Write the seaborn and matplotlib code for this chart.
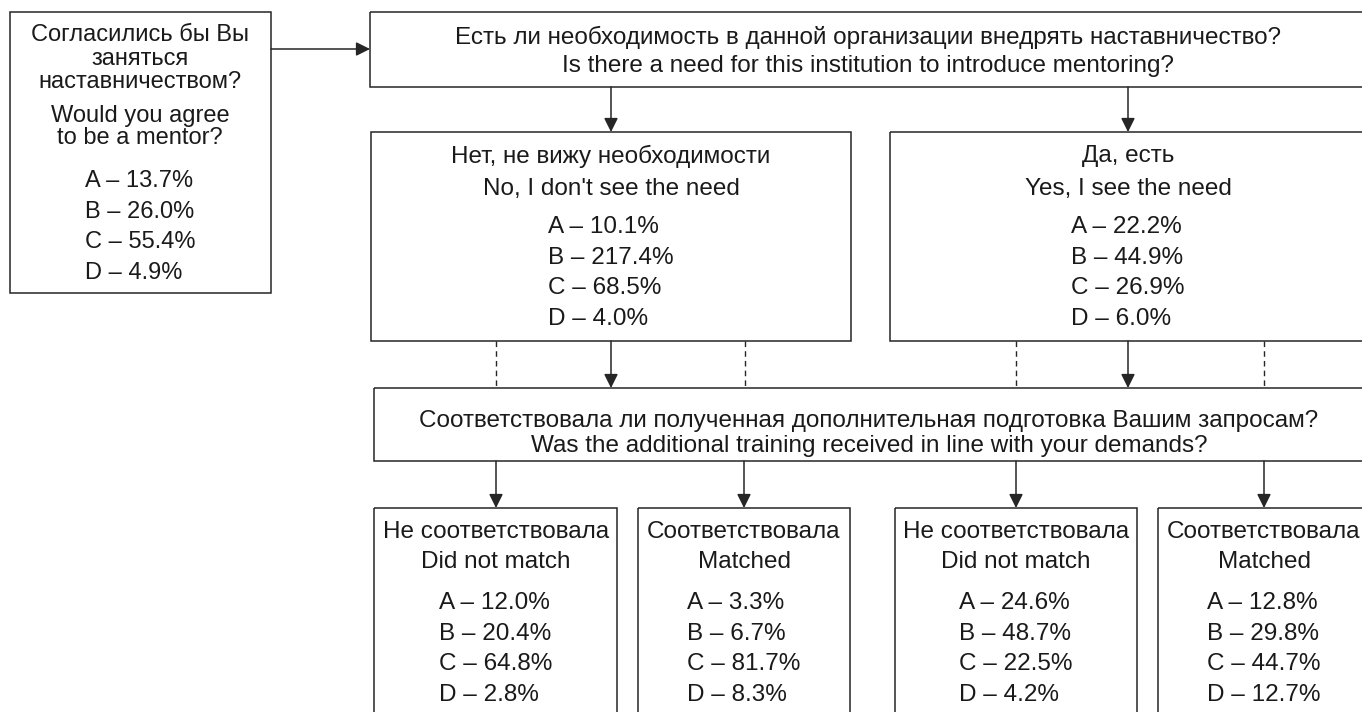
import matplotlib
matplotlib.use("Agg")
import matplotlib.pyplot as plt
import seaborn as sns
from matplotlib.patches import Rectangle, FancyArrowPatch

sns.set_theme(style="white")
plt.rcParams['font.family'] = ['Liberation Sans', 'DejaVu Sans']

# Data
letters = ["A", "B", "C", "D"]

mentor_ru = ["Согласились бы Вы", "заняться", "наставничеством?"]
mentor_en = ["Would you agree", "to be a mentor?"]
mentor_vals = [13.7, 26.0, 55.4, 4.9]

need_q_ru = "Есть ли необходимость в данной организации внедрять наставничество?"
need_q_en = "Is there a need for this institution to introduce mentoring?"

need_no_ru = "Нет, не вижу необходимости"
need_no_en = "No, I don't see the need"
need_no_vals = [10.1, 217.4, 68.5, 4.0]

need_yes_ru = "Да, есть"
need_yes_en = "Yes, I see the need"
need_yes_vals = [22.2, 44.9, 26.9, 6.0]

train_q_ru = "Соответствовала ли полученная дополнительная подготовка Вашим запросам?"
train_q_en = "Was the additional training received in line with your demands?"

mismatch_ru = "Не соответствовала"
mismatch_en = "Did not match"
match_ru = "Соответствовала"
match_en = "Matched"
no_mismatch_vals = [12.0, 20.4, 64.8, 2.8]
no_match_vals = [3.3, 6.7, 81.7, 8.3]
yes_mismatch_vals = [24.6, 48.7, 22.5, 4.2]
yes_match_vals = [12.8, 29.8, 44.7, 12.7]

LINE = "#262626"
TXT = "#1a1a1a"
FS = 17.5

fig = plt.figure(figsize=(13.62, 7.12), dpi=100)
ax = fig.add_axes([0, 0, 1, 1])
ax.set_xlim(0, 1362)
ax.set_ylim(712, 0)
ax.axis("off")


def box(x0, y0, x1, y1):
    ax.add_patch(Rectangle((x0, y0), x1 - x0, y1 - y0, fill=False,
                           edgecolor=LINE, lw=1.1))


def arrow(x0, y0, x1, y1):
    ax.add_patch(FancyArrowPatch((x0, y0), (x1, y1),
                                 arrowstyle="-|>,head_length=0.6,head_width=0.3",
                                 mutation_scale=14, color=LINE, lw=1.1,
                                 shrinkA=0, shrinkB=0))


def dashed(x, y0, y1):
    ax.plot([x, x], [y0, y1], color=LINE, lw=1.0, linestyle=(0, (4, 3)))


def label(x, y, s, fs=FS):
    ax.text(x, y + 2, s, ha="center", va="center", fontsize=fs, color=TXT)


def values(x, y, vals, ls, fs=FS):
    txt = "\n".join(f"{l} – {v:.1f}%" for l, v in zip(letters, vals))
    ax.text(x, y + 1, txt, ha="center", va="center", ma="left", fontsize=fs,
            linespacing=ls, color=TXT)


# left box
box(10, 12, 271, 293)
for yy, s in zip([33, 57, 80], mentor_ru):
    label(140, yy, s, 17)
for yy, s in zip([114, 136], mentor_en):
    label(140, yy, s, 17)
values(140, 226, mentor_vals, 1.5, 17)
arrow(271, 49, 370, 49)

# top question
box(370, 12, 1376, 87)
label(868, 35, need_q_ru)
label(868, 64, need_q_en)
arrow(611, 87, 611, 132)
arrow(1128, 87, 1128, 132)

# middle boxes
for cx, x0, x1, ru, en, vals in [(611, 371, 851, need_no_ru, need_no_en, need_no_vals),
                                 (1128, 890, 1370, need_yes_ru, need_yes_en, need_yes_vals)]:
    box(x0, 132, x1, 341)
    label(cx, 154, ru)
    label(cx, 187, en)
    values(cx, 272, vals, 1.5)
    arrow(cx, 341, cx, 388)

for x in [496, 745, 1016, 1264]:
    dashed(x, 341, 388)

# training question
box(374, 388, 1370, 461)
label(869, 419, train_q_ru)
label(869, 444, train_q_en)

# bottom boxes
bottom = [(496, 374, 617, mismatch_ru, mismatch_en, no_mismatch_vals),
          (744, 638, 850, match_ru, match_en, no_match_vals),
          (1016, 895, 1137, mismatch_ru, mismatch_en, yes_mismatch_vals),
          (1264, 1158, 1370, match_ru, match_en, yes_match_vals)]
for cx, x0, x1, ru, en, vals in bottom:
    arrow(cx, 461, cx, 508)
    box(x0, 508, x1, 740)
    label(cx, 530, ru)
    label(cx, 560, en)
    values(cx, 648, vals, 1.5)

fig.savefig("out.png", dpi=100, facecolor="white")
